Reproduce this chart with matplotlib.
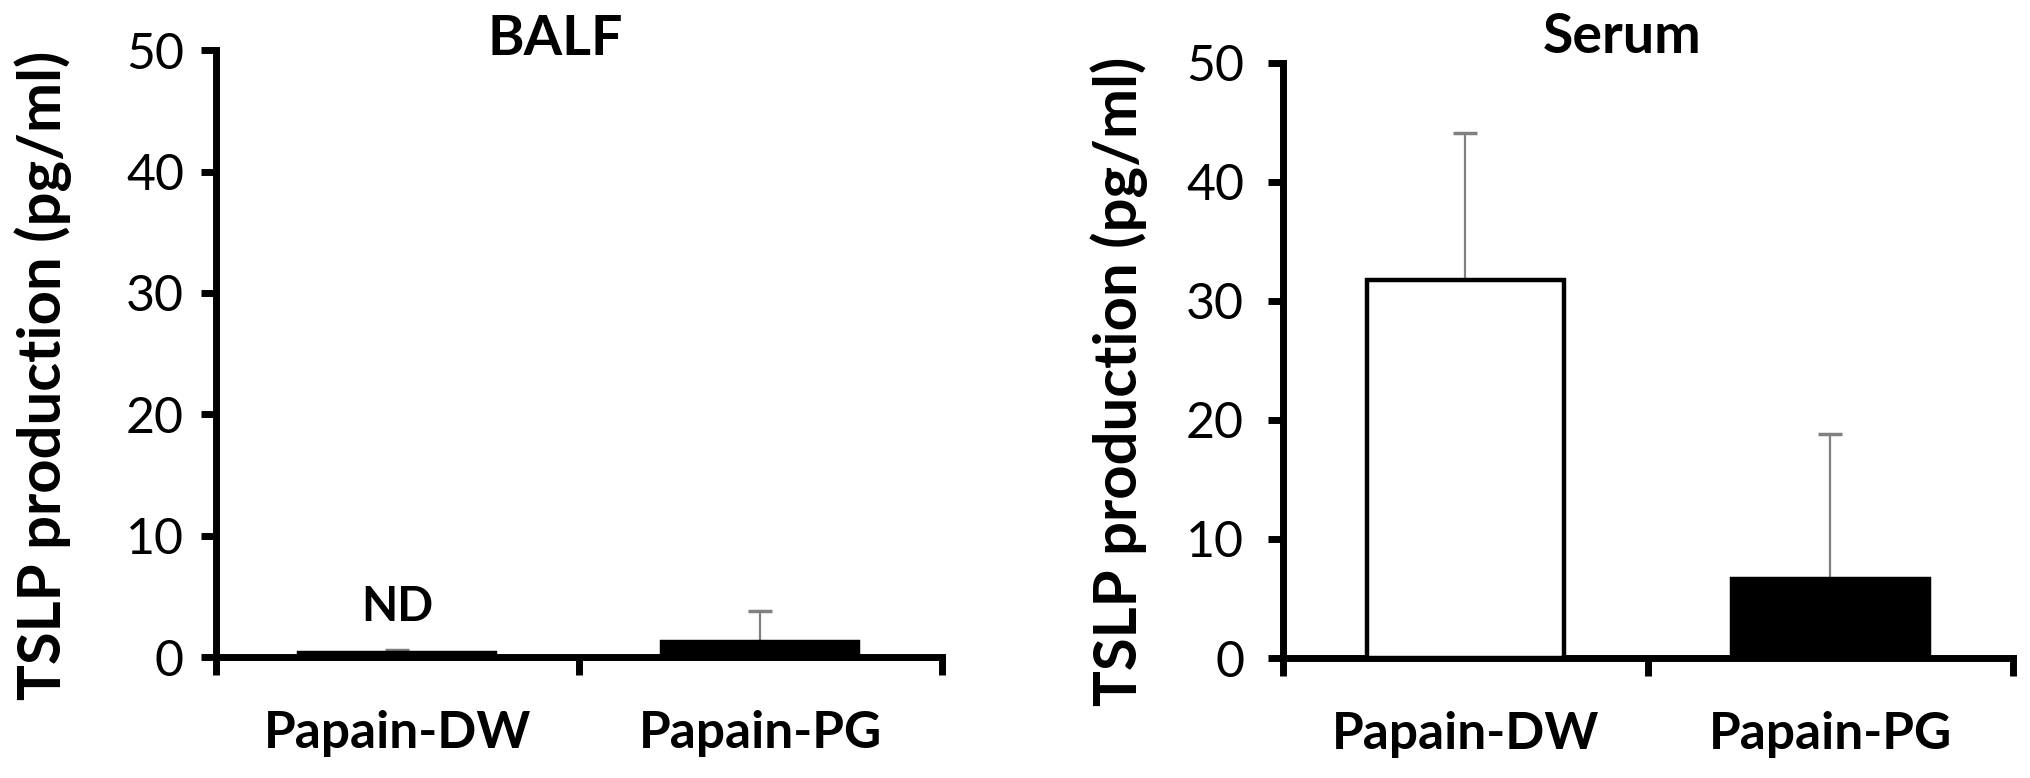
import numpy as np
import matplotlib
matplotlib.use("Agg")
import matplotlib.pyplot as plt

plt.rcParams['font.family'] = ['Lato', 'DejaVu Sans']

groups = ['Papain-DW', 'Papain-PG']
panels = ['BALF', 'Serum']
balf_mean = [0.3, 1.2]
balf_err = [0.3, 2.6]
serum_mean = [31.8, 6.6]
serum_err = [12.3, 12.2]
bar_colors = ['white', 'black']
ylabel = 'TSLP production (pg/ml)'
yticks = [0, 10, 20, 30, 40, 50]

fig = plt.figure(figsize=(20.31, 7.78), dpi=100)
ax1 = fig.add_axes([0.1063, 0.1555, 0.3575, 0.780])
ax2 = fig.add_axes([0.6317, 0.1542, 0.3594, 0.765])

# axes, means, errors, ylabel x, title x/y, tick label pad
data = [(ax1, balf_mean, balf_err, -0.198, 0.468, 0.992, 12),
        (ax2, serum_mean, serum_err, -0.185, 0.464, 1.017, 17)]
for i, (ax, mean, err, lab_x, tx, ty, ypad) in enumerate(data):
    x = np.arange(len(groups)) + 0.5
    ax.bar(x, mean, width=0.54, color=bar_colors, edgecolor='black', linewidth=3.2, zorder=3)
    ax.errorbar(x, mean, yerr=[np.zeros(len(err)), err], fmt='none', ecolor='#808080',
                elinewidth=1.6, capsize=8.5, capthick=2.5, zorder=2)
    ax.set_xlim(0, 2)
    ax.set_ylim(0, 50)
    ax.set_yticks(yticks)
    ax.set_xticks([0, 1, 2])
    ax.set_xticklabels([])
    ax.set_xticks(x, minor=True)
    ax.set_xticklabels(groups, minor=True, fontsize=37, fontweight='bold')
    ax.tick_params(axis='x', which='minor', length=0, pad=38)
    ax.tick_params(axis='x', which='major', direction='out', length=13, width=5)
    ax.tick_params(axis='y', direction='out', length=11, width=5, labelsize=36, pad=ypad)
    for s in ['top', 'right']:
        ax.spines[s].set_visible(False)
    for s in ['left', 'bottom']:
        ax.spines[s].set_linewidth(5)
    ax.set_ylabel(ylabel, fontsize=43, fontweight='bold')
    ax.yaxis.set_label_coords(lab_x, 0.465)
    ax.text(tx, ty, panels[i], transform=ax.transAxes, ha='center', va='baseline',
            fontsize=40, fontweight='bold')

ax1.text(0.5, 4.1, 'ND', ha='center', va='center', fontsize=34, fontweight='bold')

fig.savefig('out.png', dpi=100)
